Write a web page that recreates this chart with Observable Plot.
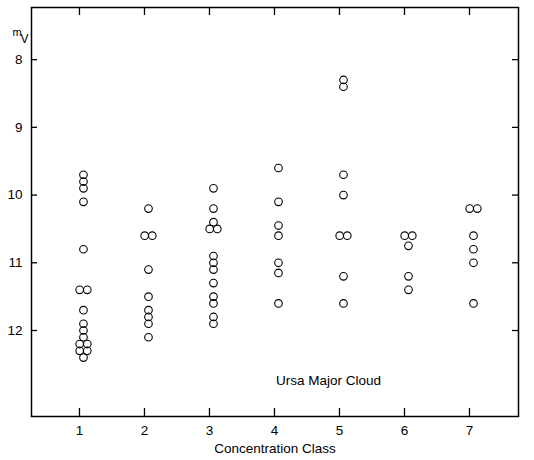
<!DOCTYPE html>
<html><head><meta charset="utf-8">
<script src="https://cdn.jsdelivr.net/npm/d3@7"></script>
<script src="https://cdn.jsdelivr.net/npm/@observablehq/plot@0.6"></script>
<style>body{margin:0;background:#fff}</style>
</head><body><div id="chart"></div>
<script>
// Concentration classes and tick values
const classes = [1, 2, 3, 4, 5, 6, 7];
const yTicks = [8, 9, 10, 11, 12];

// Apparent visual magnitudes (m_V) per concentration class (duplicates = side-by-side circles)
const class1 = [9.7, 9.8, 9.9, 10.1, 10.8, 11.4, 11.4, 11.7, 11.9, 12.0, 12.1, 12.2, 12.2, 12.3, 12.3, 12.4];
const class2 = [10.2, 10.6, 10.6, 11.1, 11.5, 11.7, 11.8, 11.9, 12.1];
const class3 = [9.9, 10.2, 10.4, 10.5, 10.5, 10.9, 11.0, 11.1, 11.3, 11.5, 11.6, 11.8, 11.9];
const class4 = [9.6, 10.1, 10.45, 10.6, 11.0, 11.15, 11.6];
const class5 = [8.3, 8.4, 9.7, 10.0, 10.6, 10.6, 11.2, 11.6];
const class6 = [10.6, 10.6, 10.75, 11.2, 11.4];
const class7 = [10.2, 10.2, 10.6, 10.8, 11.0, 11.6];

const annotation = [{x: 4.83, y: 12.74, label: "Ursa Major Cloud"}];
const xLabel = "Concentration Class";

// Build rows; repeated magnitudes within a class are spread left/right
const series = [class1, class2, class3, class4, class5, class6, class7];
const rows = [];
series.forEach((vals, i) => {
  const counts = d3.rollup(vals, v => v.length, d => d);
  const seen = new Map();
  for (const m of vals) {
    const n = counts.get(m);
    const k = seen.get(m) || 0;
    seen.set(m, k + 1);
    const side = n === 1 ? 0 : (k === 0 ? -1 : 1);
    rows.push({cls: classes[i], mag: m, side});
  }
});

const W = 534, H = 460;
const mL = 31, mR = 16, mT = 7, mB = 44;
const fw = W - mL - mR, fh = H - mT - mB;
const font = "Liberation Sans, Arial, sans-serif";

const dotOpts = {x: "cls", y: "mag", r: 3.8, stroke: "black", strokeWidth: 1.1, fill: "none"};

const chart = Plot.plot({
  width: W, height: H,
  marginLeft: mL, marginRight: mR, marginTop: mT, marginBottom: mB,
  style: {fontFamily: font, fontSize: "13.5px", color: "black", background: "white"},
  x: {domain: [0.262, 7.754], ticks: classes, tickSize: 0, tickPadding: 9, label: null, tickFormat: d3.format("d")},
  y: {domain: [7.23, 13.27], reverse: true, ticks: yTicks, tickSize: 0, tickPadding: 9, label: null, tickFormat: d3.format("d")},
  marks: [
    Plot.frame({stroke: "black", strokeWidth: 1.5}),
    // inward ticks on all four sides
    Plot.ruleX(classes, {x: d => d, insetBottom: fh - 8, stroke: "black", strokeWidth: 1.3}),
    Plot.ruleX(classes, {x: d => d, insetTop: fh - 8, stroke: "black", strokeWidth: 1.3}),
    Plot.ruleY(yTicks, {y: d => d, insetRight: fw - 6, stroke: "black", strokeWidth: 1.3}),
    Plot.ruleY(yTicks, {y: d => d, insetLeft: fw - 6, stroke: "black", strokeWidth: 1.3}),
    Plot.dot(rows.filter(d => d.side === 0), {...dotOpts, dx: 4}),
    Plot.dot(rows.filter(d => d.side === -1), {...dotOpts, dx: 0.2}),
    Plot.dot(rows.filter(d => d.side === 1), {...dotOpts, dx: 7.8}),
    Plot.text(annotation, {x: "x", y: "y", text: "label", fontSize: 13.5, fontFamily: font, fill: "black", letterSpacing: "0.3px"}),
    Plot.text([xLabel], {frameAnchor: "bottom", dy: 36, fontSize: 13.5, fontFamily: font, fill: "black"}),
    Plot.text(["m"], {frameAnchor: "top-left", dx: -19, dy: 21, fontSize: 11, fontFamily: font, fill: "black"}),
    Plot.text(["V"], {frameAnchor: "top-left", dx: -11, dy: 27, fontSize: 12, fontFamily: font, fill: "black"})
  ]
});
document.getElementById("chart").appendChild(chart);
</script>
</body></html>
